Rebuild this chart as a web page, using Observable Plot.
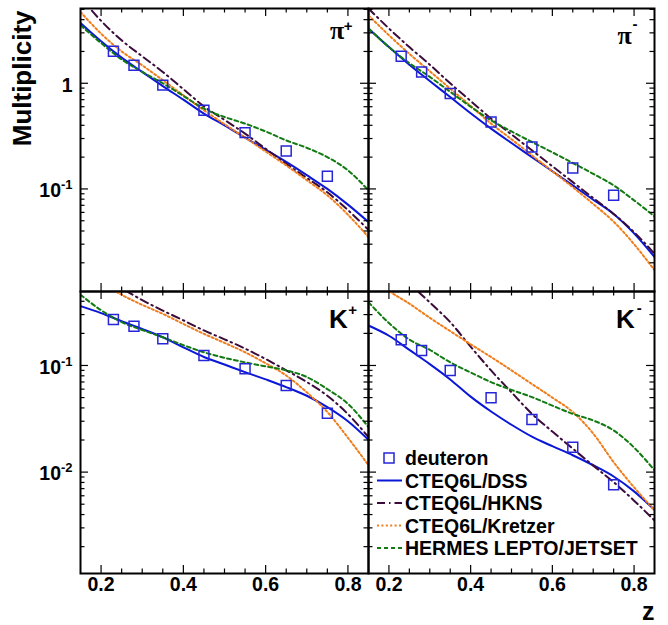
<!DOCTYPE html>
<html>
<head>
<meta charset="utf-8">
<script src="https://cdn.jsdelivr.net/npm/d3@7"></script>
<script src="https://cdn.jsdelivr.net/npm/@observablehq/plot@0.6"></script>
<style>
  body { margin: 0; background: #fff; }
  #chart { position: relative; width: 668px; height: 625px; font-family: "Liberation Sans", Arial, Helvetica, sans-serif; }
  #chart > svg { position: absolute; }
</style>
</head>
<body>
<div id="chart"></div>
<script>
// ---------- data ----------
const zGrid = [0.15, 0.2, 0.25, 0.3, 0.35, 0.4, 0.45, 0.5, 0.55, 0.6, 0.65, 0.7, 0.75, 0.8, 0.85];
const zPoints = [0.23, 0.28, 0.35, 0.45, 0.55, 0.65, 0.75];

// pi+
const deutPiPlus    = [2.01, 1.48, 0.96, 0.555, 0.341, 0.229, 0.132];
const dssPiPlus     = [3.72, 2.5, 1.75, 1.28, 0.94, 0.70, 0.516, 0.40, 0.306, 0.235, 0.18, 0.135, 0.10, 0.071, 0.0486];
const hknsPiPlus    = [6.5, 3.9, 2.55, 1.8, 1.28, 0.88, 0.605, 0.45, 0.334, 0.24, 0.173, 0.127, 0.093, 0.063, 0.041];
const kretzerPiPlus = [4.73, 2.95, 2.0, 1.48, 1.07, 0.77, 0.555, 0.41, 0.306, 0.226, 0.167, 0.121, 0.087, 0.057, 0.035];
const hermesPiPlus  = [3.54, 2.4, 1.68, 1.28, 1.0, 0.76, 0.575, 0.48, 0.415, 0.35, 0.288, 0.245, 0.2, 0.15, 0.097];

// pi-
const deutPiMinus    = [1.80, 1.28, 0.80, 0.43, 0.249, 0.158, 0.087];
const dssPiMinus     = [3.3, 2.2, 1.5, 1.05, 0.74, 0.52, 0.372, 0.272, 0.2, 0.147, 0.108, 0.079, 0.058, 0.038, 0.0227];
const hknsPiMinus    = [5.1, 3.3, 2.2, 1.5, 1.0, 0.68, 0.463, 0.328, 0.232, 0.164, 0.116, 0.082, 0.058, 0.039, 0.0244];
const kretzerPiMinus = [4.4, 2.85, 1.9, 1.3, 0.89, 0.61, 0.415, 0.295, 0.208, 0.147, 0.104, 0.072, 0.049, 0.030, 0.017];
const hermesPiMinus  = [3.3, 2.2, 1.55, 1.15, 0.83, 0.6, 0.446, 0.35, 0.278, 0.222, 0.176, 0.139, 0.108, 0.078, 0.055];

// K+
const deutKPlus    = [0.27, 0.233, 0.178, 0.124, 0.093, 0.065, 0.0357];
const dssKPlus     = [0.36, 0.31, 0.26, 0.22, 0.184, 0.148, 0.12, 0.102, 0.0866, 0.074, 0.0627, 0.052, 0.0407, 0.030, 0.0201];
const hknsKPlus    = [0.9, 0.68, 0.53, 0.41, 0.327, 0.265, 0.213, 0.176, 0.144, 0.115, 0.09, 0.07, 0.052, 0.035, 0.0213];
const kretzerKPlus = [0.85, 0.6, 0.46, 0.37, 0.305, 0.245, 0.198, 0.163, 0.133, 0.105, 0.0805, 0.056, 0.0366, 0.021, 0.0116];
const hermesKPlus  = [0.46, 0.33, 0.255, 0.215, 0.184, 0.155, 0.133, 0.118, 0.107, 0.098, 0.09, 0.078, 0.06, 0.0437, 0.0264];

// K-
const deutKMinus    = [0.174, 0.138, 0.0898, 0.0498, 0.0312, 0.0171, 0.0076];
const dssKMinus     = [0.237, 0.19, 0.14, 0.103, 0.074, 0.051, 0.037, 0.0278, 0.0215, 0.0175, 0.0144, 0.0116, 0.0091, 0.0066, 0.00443];
const hknsKMinus    = [1.4, 0.9, 0.59, 0.39, 0.255, 0.15, 0.0898, 0.056, 0.0352, 0.024, 0.0166, 0.0115, 0.00805, 0.0054, 0.00352];
const kretzerKMinus = [0.7, 0.5, 0.38, 0.28, 0.21, 0.158, 0.12, 0.09, 0.067, 0.05, 0.0366, 0.023, 0.0124, 0.0072, 0.0044];
const hermesKMinus  = [0.392, 0.25, 0.175, 0.14, 0.107, 0.086, 0.0698, 0.059, 0.0505, 0.042, 0.0352, 0.0305, 0.0246, 0.017, 0.0104];

// labels and ticks
const legendNames = ["deuteron", "CTEQ6L/DSS", "CTEQ6L/HKNS", "CTEQ6L/Kretzer", "HERMES LEPTO/JETSET"];
const panelLabels = ["π", "π", "K", "K"];
const panelCharges = ["+", "-", "+", "-"];
const xTickValues = [0.2, 0.4, 0.6, 0.8];
const xTickLabels = ["0.2", "0.4", "0.6", "0.8"];
const xMinorTicks = [0.25, 0.3, 0.35, 0.45, 0.5, 0.55, 0.65, 0.7, 0.75];
const yLabelValuesTop = [1, 0.1];
const yLabelBaseTop = ["1", "10"];
const yLabelExpTop = ["", "-1"];
const yLabelValuesBottom = [0.1, 0.01];
const yLabelBaseBottom = ["10", "10"];
const yLabelExpBottom = ["-1", "-2"];
const xDomain = [0.15, 0.85];
const yDomainTop = [0.0107, 5.1];
const yDomainBottom = [0.00112, 0.494];
const yTitle = "Multiplicity";
const xTitle = "z";

// ---------- styles ----------
const pointColor = "#2626d8";
const lineStyles = [
  {color: "#0b17d6", dash: null},
  {color: "#3b0c3b", dash: "8,4,1.5,4"},
  {color: "#f07d1a", dash: "2,2.4"},
  {color: "#127a12", dash: "4,3"}
];
const sansFont = "Liberation Sans, Arial, Helvetica, sans-serif";
const serifFont = "Liberation Serif, Times New Roman, serif";

const panels = [
  {left: 0, top: 0, width: 368, height: 291, mL: 80, mT: 8, mR: 0, mB: 0, yDomain: yDomainTop,
   points: deutPiPlus, curves: [dssPiPlus, hknsPiPlus, kretzerPiPlus, hermesPiPlus],
   labelIdx: 0, serif: true, lab: [-31.3, 30.3], sup: [-20.5, 22.4],
   yLabels: {v: yLabelValuesTop, base: yLabelBaseTop, exp: yLabelExpTop}, xLabels: false, yTitle: true},
  {left: 368, top: 0, width: 300, height: 291, mL: 0, mT: 8, mR: 14, mB: 0, yDomain: yDomainTop,
   points: deutPiMinus, curves: [dssPiMinus, hknsPiMinus, kretzerPiMinus, hermesPiMinus],
   labelIdx: 1, serif: true, lab: [-29.8, 35.3], sup: [-19.5, 20.1],
   yLabels: null, xLabels: false},
  {left: 0, top: 291, width: 368, height: 334, mL: 80, mT: 0, mR: 0, mB: 52, yDomain: yDomainBottom,
   points: deutKPlus, curves: [dssKPlus, hknsKPlus, kretzerKPlus, hermesKPlus],
   labelIdx: 2, serif: false, lab: [-30.2, 36.3], sup: [-16, 23.3],
   yLabels: {v: yLabelValuesBottom, base: yLabelBaseBottom, exp: yLabelExpBottom}, xLabels: true},
  {left: 368, top: 291, width: 300, height: 334, mL: 0, mT: 0, mR: 14, mB: 52, yDomain: yDomainBottom,
   points: deutKMinus, curves: [dssKMinus, hknsKMinus, kretzerKMinus, hermesKMinus],
   labelIdx: 3, serif: false, lab: [-29, 36.3], sup: [-15.3, 21],
   yLabels: null, xLabels: true, xTitle: true}
];

function makePanel(p) {
  const fw = p.width - p.mL - p.mR;
  const fh = p.height - p.mT - p.mB;
  const yt = d3.scaleLog().domain(p.yDomain).ticks();
  const isMajor = v => Math.abs(Math.log10(v) - Math.round(Math.log10(v))) < 1e-6;
  const yMajor = yt.filter(isMajor);
  const yMinor = yt.filter(v => !isMajor(v));
  const marks = [];

  p.curves.forEach((vals, i) => {
    marks.push(Plot.line(zGrid.map((z, j) => ({z, v: vals[j]})), {
      x: "z", y: "v", stroke: lineStyles[i].color, strokeWidth: 2,
      strokeDasharray: lineStyles[i].dash, curve: "monotone-x", clip: true
    }));
  });
  marks.push(Plot.dot(zPoints.map((z, j) => ({z, v: p.points[j]})), {
    x: "z", y: "v", symbol: "square", r: 5.6, stroke: pointColor, strokeWidth: 1.5, fill: "none"
  }));

  const tk = {stroke: "black", strokeWidth: 1.2};
  marks.push(Plot.tickX(xTickValues, {x: d => d, insetTop: fh - 8, ...tk}));
  marks.push(Plot.tickX(xTickValues, {x: d => d, insetBottom: fh - 8, ...tk}));
  marks.push(Plot.tickX(xMinorTicks, {x: d => d, insetTop: fh - 4.5, ...tk}));
  marks.push(Plot.tickX(xMinorTicks, {x: d => d, insetBottom: fh - 4.5, ...tk}));
  marks.push(Plot.tickY(yMajor, {y: d => d, insetRight: fw - 8, ...tk}));
  marks.push(Plot.tickY(yMajor, {y: d => d, insetLeft: fw - 8, ...tk}));
  marks.push(Plot.tickY(yMinor, {y: d => d, insetRight: fw - 4.5, ...tk}));
  marks.push(Plot.tickY(yMinor, {y: d => d, insetLeft: fw - 4.5, ...tk}));
  marks.push(Plot.frame({stroke: "black", strokeWidth: 2}));

  // panel label
  marks.push(Plot.text([panelLabels[p.labelIdx]], {
    frameAnchor: "top-right", text: d => d, textAnchor: "middle", lineAnchor: "bottom",
    dx: p.lab[0], dy: p.lab[1], fontSize: 26, fontWeight: "bold",
    fontFamily: p.serif ? serifFont : sansFont
  }));
  marks.push(Plot.text([panelCharges[p.labelIdx]], {
    frameAnchor: "top-right", text: d => d, textAnchor: "middle", lineAnchor: "bottom",
    dx: p.sup[0], dy: p.sup[1], fontSize: 15, fontWeight: "bold", fontFamily: sansFont
  }));

  // y tick labels
  if (p.yLabels) {
    const rows = p.yLabels.v.map((v, i) => ({v, base: p.yLabels.base[i], exp: p.yLabels.exp[i]}));
    const plain = rows.filter(r => !r.exp), powered = rows.filter(r => r.exp);
    const lt = {frameAnchor: "left", textAnchor: "end", fontWeight: "bold", fontFamily: sansFont};
    marks.push(Plot.text(plain, {y: "v", text: "base", dx: -8, dy: 2, fontSize: 19.5, ...lt}));
    marks.push(Plot.text(powered, {y: "v", text: "base", dx: -19.5, dy: 2, fontSize: 19.5, ...lt}));
    marks.push(Plot.text(powered, {y: "v", text: "exp", dx: -8, dy: -4, fontSize: 13, ...lt}));
  }
  // x tick labels
  if (p.xLabels) {
    marks.push(Plot.text(xTickValues, {
      x: d => d, frameAnchor: "bottom", text: (d, i) => xTickLabels[i], dy: 17,
      fontSize: 19.5, fontWeight: "bold", fontFamily: sansFont
    }));
  }
  if (p.yTitle) {
    marks.push(Plot.text([yTitle], {
      frameAnchor: "top-left", text: d => d, rotate: -90, textAnchor: "end", lineAnchor: "bottom",
      dx: -50, dy: 2, fontSize: 26, fontWeight: "bold", fontFamily: sansFont
    }));
  }
  if (p.xTitle) {
    marks.push(Plot.text([xTitle], {
      frameAnchor: "bottom-right", text: d => d, textAnchor: "end", lineAnchor: "middle",
      dx: 0, dy: 38, fontSize: 25, fontWeight: "bold", fontFamily: sansFont
    }));
  }

  const svg = Plot.plot({
    width: p.width, height: p.height,
    marginLeft: p.mL, marginTop: p.mT, marginRight: p.mR, marginBottom: p.mB,
    x: {domain: xDomain, axis: null},
    y: {type: "log", domain: p.yDomain, axis: null},
    style: {background: "transparent", overflow: "visible", fontFamily: sansFont},
    marks
  });
  svg.style.left = p.left + "px";
  svg.style.top = p.top + "px";
  svg.style.position = "absolute";
  return svg;
}

const chart = document.getElementById("chart");
panels.forEach(p => chart.appendChild(makePanel(p)));

// ---------- legend (inside the K- panel) ----------
const leg = d3.create("svg")
  .attr("width", 290).attr("height", 125)
  .style("position", "absolute").style("left", "368px").style("top", "440px")
  .style("overflow", "visible");
const rowY = i => 18 + i * 22.5;
legendNames.forEach((name, i) => {
  const y = rowY(i);
  if (i === 0) {
    leg.append("rect").attr("x", 16).attr("y", y - 5).attr("width", 10).attr("height", 10)
      .attr("fill", "none").attr("stroke", pointColor).attr("stroke-width", 1.5);
  } else {
    const s = lineStyles[i - 1];
    leg.append("line").attr("x1", 9).attr("x2", 34).attr("y1", y).attr("y2", y)
      .attr("stroke", s.color).attr("stroke-width", 2)
      .attr("stroke-dasharray", s.dash);
  }
  leg.append("text").attr("x", 37).attr("y", y).attr("dy", "0.36em")
    .attr("font-family", sansFont).attr("font-weight", "bold").attr("font-size", 19.5)
    .text(name);
});
chart.appendChild(leg.node());
</script>
</body>
</html>
